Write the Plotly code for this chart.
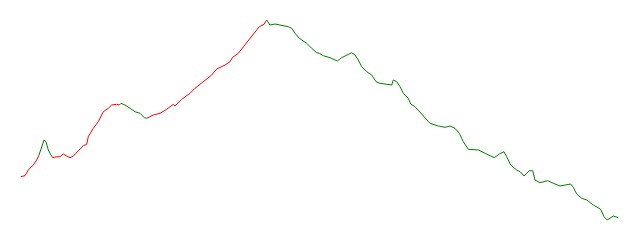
import plotly.graph_objects as go

# x position (time index) and value
x = [20.7, 25, 28.3, 33.3, 36.7, 39,
     41.7, 44, 46, 48.3, 51, 52.7,
     55, 60, 63.3, 66.7, 70, 73.3, 76.7, 80, 83.3, 86.7, 88.3, 93.3, 98.3, 103.3,
     108.3, 111.7, 116.7, 119.3, 121,
     125, 130, 135, 140, 144.3, 146.7,
     150, 153.3, 160, 166.7, 173.3, 175, 181.7, 190, 195, 203.3, 211.7, 216.7,
     225, 230, 232.7, 238.3, 245, 251.7, 256.7, 259.3, 264, 266.7,
     270, 275, 280, 288.3, 291.7, 295, 299.3, 306.7, 311.7, 316.7, 319.3,
     323.3, 330, 337.3, 341.7, 346.7, 351.7, 355, 358.3, 361.7, 366.7, 371.7,
     376, 380, 391.7, 393.3, 396.7, 400, 403.3, 408.3, 410.7, 415, 421.7, 430,
     438.3, 445, 450, 455, 459.3, 463.3, 468.3, 478.3, 486.7, 494.3, 499.3,
     504, 506.7, 510.7, 516.7, 520, 524, 529.3, 532.7, 535, 540, 547.7, 553.3,
     560, 570.7, 573.3, 576.7, 581.7, 586.7, 593.3, 600.7, 604, 607.3, 613.3,
     618.3]
ypix = [176.7, 175.7, 170, 165, 160, 155,
        146.7, 140, 141.7, 150, 155, 157.7,
        157, 156.7, 154, 156, 157.7, 156, 152.7, 149, 145.7, 144.3, 136.7, 128.3, 121.7, 111.7,
        108.3, 105, 104.3, 105, 103.3,
        105, 108.3, 111.7, 113.3, 117.7, 118.3,
        116.7, 115, 113.3, 109.3, 104.3, 106, 99.3, 93.3, 88.3, 81.7, 75, 69,
        65, 61.7, 57.3, 53.3, 45, 36.7, 30, 26.7, 24.3, 20,
        25, 24, 25, 26.7, 28.3, 33.3, 38.3, 43.3, 48.3, 52.7, 53.3,
        55.7, 57.7, 61, 57.7, 55, 52.7, 55, 60, 66.7, 71.7, 75,
        81.7, 83.3, 85, 80, 81.7, 86.7, 93.3, 98.3, 104, 106.7, 114, 123.3,
        126, 127.3, 126, 128.3, 133.3, 141.7, 149.3, 150, 154, 157.7, 154,
        151.7, 156.7, 165, 170, 171.7, 176, 170.7, 170.7, 180, 182.7, 180.7, 183.3,
        186, 184, 187.3, 194, 198.3, 200, 205, 209.3, 216.7, 220, 216,
        217.7]
values = [240 - v for v in ypix]

# trend regimes: (start x, end x, colour)
breaks = [20.7, 39, 52.7, 121, 146.7, 266.7, 618.3]
colors = ["red", "green", "red", "green", "red", "green"]

fig = go.Figure()
for i, c in enumerate(colors):
    lo, hi = breaks[i], breaks[i + 1]
    xs = [a for a in x if lo <= a <= hi]
    ys = [v for a, v in zip(x, values) if lo <= a <= hi]
    fig.add_trace(go.Scatter(x=xs, y=ys, mode="lines",
                             line=dict(color=c, width=1), showlegend=False,
                             hoverinfo="skip"))

fig.update_layout(width=640, height=240, margin=dict(l=0, r=0, t=0, b=0),
                  plot_bgcolor="white", paper_bgcolor="white",
                  xaxis=dict(range=[0, 640], visible=False),
                  yaxis=dict(range=[0, 240], visible=False))
fig.write_html("out.html")
